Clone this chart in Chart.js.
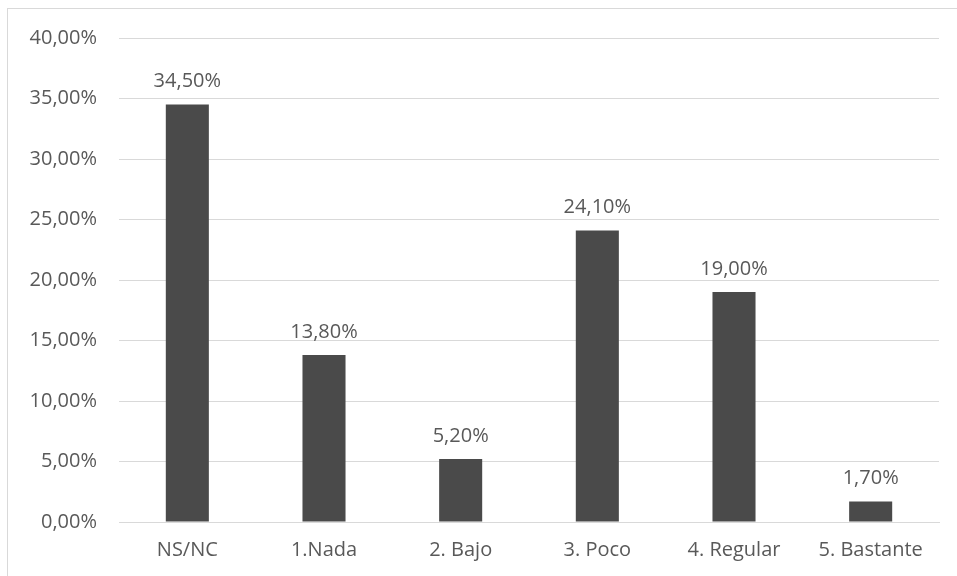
<!DOCTYPE html>
<html>
<head>
<meta charset="utf-8">
<script src="https://cdn.jsdelivr.net/npm/chart.js@4/dist/chart.umd.min.js"></script>
<style>
  html, body { margin: 0; padding: 0; background: #ffffff; }
  #wrap { position: absolute; left: 0; top: 0; width: 957px; height: 576px; }
  #frame { position: absolute; left: 7px; top: 8px; width: 960px; height: 580px; border-left: 1px solid #d9d9d9; border-top: 1px solid #d9d9d9; }
  canvas { position: absolute; left: 0; top: 0; }
</style>
</head>
<body>
<div id="wrap">
  <div id="frame"></div>
  <canvas id="c" width="957" height="576"></canvas>
</div>
<script>
const categories = ["NS/NC", "1.Nada", "2. Bajo", "3. Poco", "4. Regular", "5. Bastante"];
const values = [34.5, 13.8, 5.2, 24.1, 19.0, 1.7];
const yTicks = [0, 5, 10, 15, 20, 25, 30, 35, 40];

const FONT = "'Open Sans', 'Liberation Sans', sans-serif";
const TXT = "#595959";
const fmt = v => v.toFixed(2).replace('.', ',') + '%';

const labelPlugin = {
  id: 'barLabels',
  afterDatasetsDraw(chart) {
    const ctx = chart.ctx;
    const meta = chart.getDatasetMeta(0);
    ctx.save();
    ctx.font = "20px " + FONT;
    ctx.fillStyle = TXT;
    ctx.textAlign = 'center';
    ctx.textBaseline = 'middle';
    meta.data.forEach((bar, i) => {
      ctx.fillText(fmt(values[i]), bar.x, bar.y - 23);
    });
    ctx.restore();
  }
};

new Chart(document.getElementById('c'), {
  type: 'bar',
  data: {
    labels: categories,
    datasets: [{
      data: values,
      backgroundColor: '#4a4a4a',
      borderWidth: 0,
      barPercentage: 0.315,
      categoryPercentage: 1
    }]
  },
  options: {
    responsive: false,
    animation: false,
    events: [],
    layout: { padding: { left: 0, right: 18, top: 38, bottom: 0 } },
    plugins: { legend: { display: false }, tooltip: { enabled: false } },
    scales: {
      x: {
        grid: { display: false, drawTicks: false },
        border: { display: true, color: '#d9d9d9', width: 1 },
        ticks: { color: TXT, font: { family: FONT, size: 20 }, padding: 16, maxRotation: 0 },
        afterFit: s => { s.height = 54; }
      },
      y: {
        min: 0, max: 40,
        afterBuildTicks: s => { s.ticks = yTicks.map(v => ({ value: v })); },
        grid: { color: '#d9d9d9', lineWidth: 1, drawTicks: false },
        border: { display: false },
        ticks: { color: TXT, font: { family: FONT, size: 20 }, padding: 22, callback: v => fmt(v) },
        afterFit: s => { s.width = 119; }
      }
    }
  },
  plugins: [labelPlugin]
});
</script>
</body>
</html>
